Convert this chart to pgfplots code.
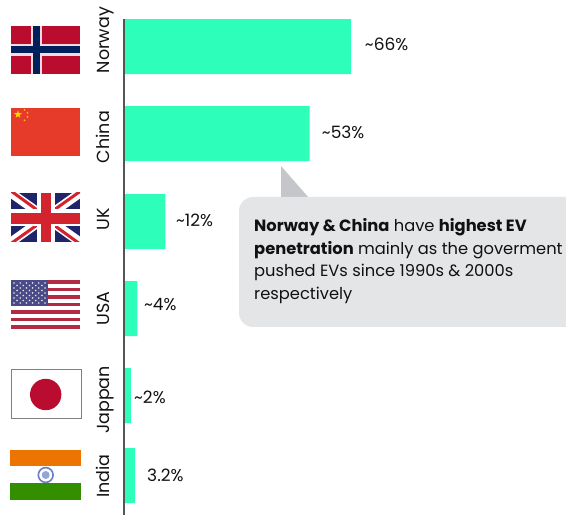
\documentclass[border=0pt]{standalone}
\usepackage{fontspec}
\setmainfont{Poppins}
\usepackage{pgfplots}
\pgfplotsset{compat=1.18}
\usetikzlibrary{shapes.geometric}
\definecolor{barc}{HTML}{2DFFBB}
\definecolor{axc}{HTML}{555555}
\definecolor{boxc}{HTML}{E4E5E7}
\definecolor{tric}{HTML}{C5C6C9}
\definecolor{txt}{HTML}{111111}
\definecolor{nored}{HTML}{BA0C2F}
\definecolor{nonavy}{HTML}{00205B}
\definecolor{cnred}{HTML}{E63B2A}
\definecolor{cnyel}{HTML}{FFD500}
\definecolor{ukblue}{HTML}{20246B}
\definecolor{ukred}{HTML}{D3232E}
\definecolor{usred}{HTML}{B22B42}
\definecolor{usblue}{HTML}{4A4A86}
\definecolor{inor}{HTML}{EB7500}
\definecolor{ingr}{HTML}{338F00}
\definecolor{inbl}{HTML}{6A7FC4}
\newcommand{\valfont}{\fontsize{17}{18}\selectfont}
\newcommand{\catfont}{\fontsize{17.5}{18}\selectfont}
\newcommand{\boxfont}{\fontsize{16.3}{18}\selectfont}
\tikzset{vals/.style={anchor=west,inner sep=0pt,text=txt,font=\valfont}}
\begin{document}
\begin{tikzpicture}[x=1pt,y=1pt]
\path[use as bounding box] (0,0) rectangle (566,515);
% callout
\begin{scope}[x=1pt,y=-1pt,shift={(0,515pt)}]
\begin{scope}
\clip (0,0) rectangle (566,515);
\fill[tric] (281,166) -- (281,198) -- (309,198) -- cycle;
\fill[boxc,rounded corners=14pt] (239,197) rectangle (590,327);
\end{scope}
\node[anchor=base west,inner sep=0,text=txt,font=\boxfont] at (254,232) {\textbf{Norway \& China} have \textbf{highest EV}};
\node[anchor=base west,inner sep=0,text=txt,font=\boxfont] at (254,255) {\textbf{penetration} mainly as the goverment};
\node[anchor=base west,inner sep=0,text=txt,font=\boxfont] at (254,277) {pushed EVs since 1990s \& 2000s};
\node[anchor=base west,inner sep=0,text=txt,font=\boxfont] at (254,300) {respectively};
% Norway
\fill[nored] (11,26) rectangle (80,74);
\fill[white!85!nored] (30.5,26) rectangle (42,74);
\fill[white!85!nored] (11,44) rectangle (80,56);
\fill[nonavy] (33,26) rectangle (39.7,74);
\fill[nonavy] (11,46.5) rectangle (80,53.5);
% China
\fill[cnred] (11,108) rectangle (80,156);
\node[star,star points=5,star point ratio=2.4,fill=cnyel,inner sep=0,minimum size=8pt] at (18,114.5) {};
\foreach \p in {(24.5,110),(27.5,113),(27.5,117),(24.5,120.5)}
  \node[circle,fill=cnyel!85!cnred,inner sep=0,minimum size=2pt] at \p {};
% UK
\begin{scope}
\clip (11,193) rectangle (80,242);
\fill[ukblue] (11,193) rectangle (80,242);
\draw[white,line width=9pt] (11,193) -- (80,242);
\draw[white,line width=9pt] (11,242) -- (80,193);
\draw[ukred,line width=3pt] (11,191) -- (45.5,216);
\draw[ukred,line width=3pt] (45.5,219) -- (80,244);
\draw[ukred,line width=3pt] (11,243.5) -- (45.5,219);
\draw[ukred,line width=3pt] (45.5,216) -- (80,191.5);
\fill[white] (36.5,193) rectangle (54.5,242);
\fill[white] (11,209) rectangle (80,226);
\fill[ukred] (41,193) rectangle (50.5,242);
\fill[ukred] (11,213) rectangle (80,224);
\end{scope}
% USA
\fill[white] (11,280) rectangle (80,329);
\foreach \i in {0,2,...,12}
  \fill[usred] (11,{280+\i*3.77}) rectangle (80,{280+(\i+1)*3.77});
\fill[usblue] (11,280) rectangle (48,306);
\foreach \r in {0,...,4}
  \foreach \c in {0,...,5}
    \fill[white!85!usblue] ({14+\c*6.2},{283+\r*5}) circle (0.9);
\foreach \r in {0,...,3}
  \foreach \c in {0,...,4}
    \fill[white!85!usblue] ({17.1+\c*6.2},{285.5+\r*5}) circle (0.9);
% Japan
\draw[fill=white,draw=black!50,line width=1pt] (11,370) rectangle (81,419);
\fill[nored] (45.7,394.5) circle (15.7);
% India
\fill[inor] (10,450) rectangle (81,466);
\fill[white] (10,466) rectangle (81,483);
\fill[ingr] (10,483) rectangle (81,500);
\draw[inbl,line width=1.6pt] (45.7,475) circle (7.4);
\fill[inbl!70!white] (45.7,475) circle (4);
\end{scope}
\begin{axis}[
  at={(124pt,0pt)},anchor=south west,
  scale only axis,width=442pt,height=496pt,
  xmin=0,xmax=128.5,ymin=19,ymax=515,
  y dir=reverse,
  axis x line=none,
  axis y line=left,
  axis on top,
  axis line style={draw=axc,line width=1.8pt,-},
  xtick=\empty,
  ytick={40,137,219,308.5,400,476},
  yticklabels={Norway,China,UK,USA,Jappan,India},
  major tick length=0pt,
  y tick label style={xshift=-14.5pt,rotate=90,anchor=base,font=\catfont,text=txt},
  clip=false,
  xbar,bar width=55pt,
]
\addplot[bar shift=0pt,fill=barc,draw=none] coordinates {
 (66,46.5) (54,133.5) (12,221.5) (3.9,308.5) (2,395.5) (3.2,475.5)};
\node[vals] at (axis cs:70,44) {\textasciitilde 66\%};
\node[vals] at (axis cs:57.5,132) {\textasciitilde 53\%};
\node[vals] at (axis cs:15.1,220) {\textasciitilde 12\%};
\node[vals] at (axis cs:5.8,305) {\textasciitilde 4\%};
\node[vals] at (axis cs:2.9,397) {\textasciitilde 2\%};
\node[vals] at (axis cs:6.7,475) {3.2\%};
\end{axis}
\end{tikzpicture}
\end{document}
